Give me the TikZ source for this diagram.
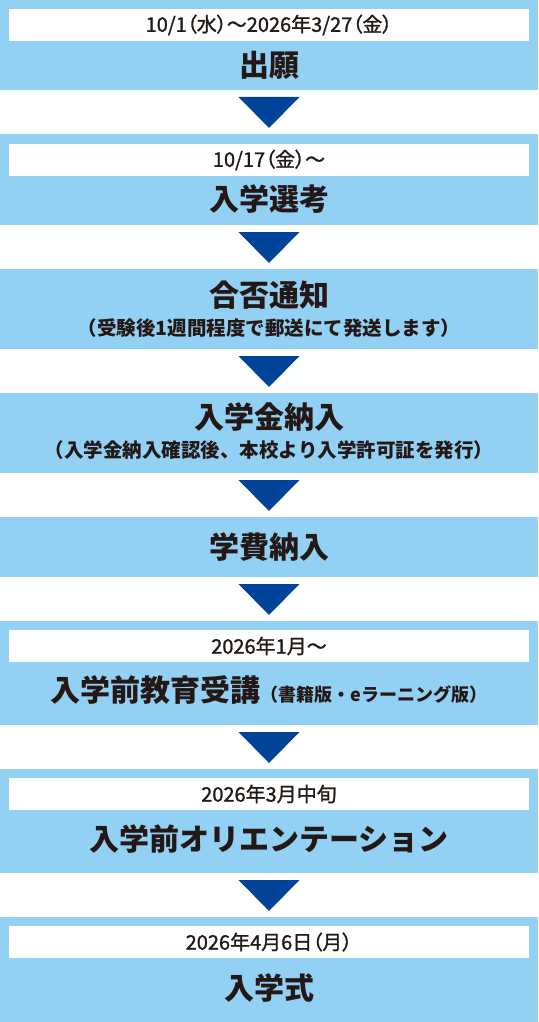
\documentclass[tikz,border=0pt]{standalone}
\usepackage{fontspec}
\newfontfamily\jp{Noto Sans CJK JP}
\newfontfamily\jpdate{Noto Sans CJK JP}[RawFeature=+palt, FakeBold=1.2]
\usetikzlibrary{calc}
\definecolor{skyblue}{HTML}{92D0F4}
\definecolor{arrowblue}{HTML}{00449A}
\definecolor{ink}{HTML}{231815}
\tikzset{
  stage/.style={fill=skyblue, minimum width=538pt, inner sep=0pt, outer sep=0pt},
  dateband/.style={fill=white, minimum width=520pt, minimum height=32pt, inner sep=0pt,
    text=ink, font=\jpdate\fontsize{20}{20}\selectfont},
  steptitle/.style={inner sep=0pt, text=ink, font=\jp\bfseries\fontsize{30}{30}\selectfont},
  stepnote/.style={inner sep=0pt, text=ink, font=\jp\bfseries\fontsize{19.5}{19.5}\selectfont},
  flowarrow/.style={fill=arrowblue}
}
\begin{document}
\begin{tikzpicture}[x=1pt,y=-1pt]
      \useasboundingbox (0,0) rectangle (538,1022);
      % the steps
      \node[stage, minimum height=90pt] (apply) at (269,45) {};
      \node[dateband] (applydate) at (269,25) {10/1（水）～2026年3/27（金）};
      \node[steptitle] (applytitle) at (269,65) {出願};
      \node[stage, minimum height=91pt] (exam) at (269,179.5) {};
      \node[dateband] (examdate) at (269,160) {10/17（金）～};
      \node[steptitle] (examtitle) at (269,199) {入学選考};
      \node[stage, minimum height=80pt] (result) at (269,309) {};
      \node[steptitle] (resulttitle) at (269,295) {合否通知};
      \node[stepnote] (resultnote) at (269,328) {（受験後1週間程度で郵送にて発送します）};
      \node[stage, minimum height=80pt] (fee) at (269,433) {};
      \node[steptitle] (feetitle) at (269,417) {入学金納入};
      \node[stepnote] (feenote) at (269,450) {（入学金納入確認後、本校より入学許可証を発行）};
      \node[stage, minimum height=60pt] (tuition) at (269,547) {};
      \node[steptitle] (tuitiontitle) at (269,547) {学費納入};
      \node[stage, minimum height=104pt] (prestudy) at (269,673) {};
      \node[dateband] (prestudydate) at (269,646) {2026年1月～};
      \node[steptitle] (prestudytitle) at (269,690) {入学前教育受講{\fontsize{18}{18}\selectfont（書籍版・eラーニング版）}};
      \node[stage, minimum height=104pt] (orient) at (269,821) {};
      \node[dateband] (orientdate) at (269,794) {2026年3月中旬};
      \node[steptitle] (orienttitle) at (269,839) {入学前オリエンテーション};
      \node[stage, minimum height=105pt] (ceremony) at (269,969.5) {};
      \node[dateband] (ceremonydate) at (269,942) {2026年4月6日（月）};
      \node[steptitle] (ceremonytitle) at (269,988) {入学式};
      % arrows between the steps
      \foreach \a/\b in {apply/exam, exam/result, result/fee, fee/tuition,
                         tuition/prestudy, prestudy/orient, orient/ceremony}
        \fill[flowarrow] ($(\a.south)+(-30.5,7)$) -- ($(\a.south)+(30.5,7)$) -- ($(\b.north)+(0,-6)$) -- cycle;
\end{tikzpicture}
\end{document}
